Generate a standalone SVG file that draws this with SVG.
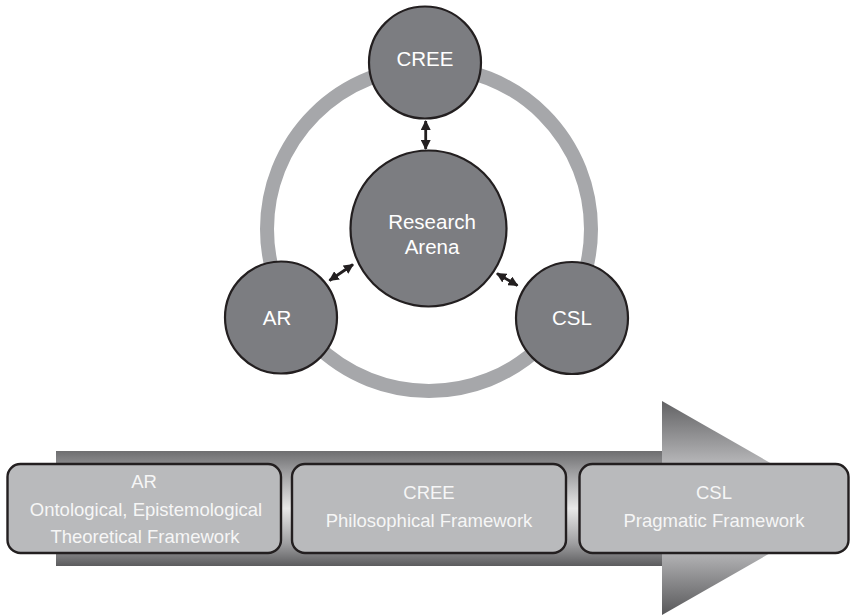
<svg xmlns="http://www.w3.org/2000/svg" width="851" height="616" viewBox="0 0 851 616">
  <defs>
    <style>
      .node { fill: #7c7d81; stroke: #231f20; stroke-width: 2.2; }
      .ring { fill: none; stroke: #a6a7aa; stroke-width: 14; }
      .link { stroke: #231f20; stroke-width: 2.8; fill: none; marker-start: url(#tip); marker-end: url(#tip); }
      .box { fill: #b9babc; stroke: #231f20; stroke-width: 2.4; }
      .lbl { font-family: "Liberation Sans", Arial, sans-serif; fill: #ffffff; text-anchor: middle; font-size: 20.5px; }
      .blbl { font-family: "Liberation Sans", Arial, sans-serif; fill: #f6f6f6; text-anchor: middle; font-size: 18.5px; }
    </style>
    <marker id="tip" viewBox="0 0 10 10" refX="9" refY="5" markerWidth="3.6" markerHeight="3.6" orient="auto-start-reverse" markerUnits="strokeWidth">
      <path d="M0,0 L10,5 L0,10 Z" fill="#231f20"/>
    </marker>
    <linearGradient id="shaftGrad" gradientUnits="userSpaceOnUse" x1="0" y1="451" x2="0" y2="566">
      <stop offset="0" stop-color="#6e6e70"/>
      <stop offset="0.2" stop-color="#a2a2a4"/>
      <stop offset="0.5" stop-color="#e8e8e8"/>
      <stop offset="0.8" stop-color="#a0a0a2"/>
      <stop offset="1" stop-color="#5c5c5e"/>
    </linearGradient>
    <linearGradient id="headGrad" gradientUnits="userSpaceOnUse" x1="0" y1="401" x2="0" y2="615">
      <stop offset="0" stop-color="#626264"/>
      <stop offset="0.28" stop-color="#b3b3b5"/>
      <stop offset="0.5" stop-color="#d8d8d8"/>
      <stop offset="0.72" stop-color="#b0b0b2"/>
      <stop offset="1" stop-color="#58585a"/>
    </linearGradient>
  </defs>

  <!-- outer ring joining the three perspectives -->
  <circle class="ring" cx="429" cy="229" r="162"/>

  <!-- two-way links to the research arena -->
  <g id="connectors">
    <line class="link" x1="425.7" y1="121" x2="425.7" y2="149"/>
    <line class="link" x1="329.5" y1="280.5" x2="353" y2="264.5"/>
    <line class="link" x1="497" y1="273.5" x2="517.5" y2="285.5"/>
  </g>

  <g id="cree">
    <circle class="node" cx="425" cy="62.5" r="56"/>
    <text class="lbl" x="425" y="66">CREE</text>
  </g>
  <g id="research-arena">
    <circle class="node" cx="428.5" cy="228.5" r="78"/>
    <text class="lbl" x="432" y="229">Research</text>
    <text class="lbl" x="432" y="254">Arena</text>
  </g>
  <g id="ar">
    <circle class="node" cx="281" cy="317.5" r="56"/>
    <text class="lbl" x="277" y="325">AR</text>
  </g>
  <g id="csl">
    <circle class="node" cx="572" cy="318" r="56"/>
    <text class="lbl" x="572" y="325">CSL</text>
  </g>

  <!-- progression arrow behind the framework boxes -->
  <g id="progression-arrow">
    <rect x="56" y="451" width="609" height="115" fill="url(#shaftGrad)"/>
    <polygon points="662,401 849,508 662,615" fill="url(#headGrad)"/>
  </g>

  <g id="framework-ar">
    <rect class="box" x="7.5" y="464" width="273.5" height="89" rx="13" ry="13"/>
    <text class="blbl" x="144" y="488">AR</text>
    <text class="blbl" x="146" y="516">Ontological, Epistemological</text>
    <text class="blbl" x="145" y="543">Theoretical Framework</text>
  </g>
  <g id="framework-cree">
    <rect class="box" x="292" y="464" width="274" height="89" rx="13" ry="13"/>
    <text class="blbl" x="429" y="499">CREE</text>
    <text class="blbl" x="429" y="527">Philosophical Framework</text>
  </g>
  <g id="framework-csl">
    <rect class="box" x="579.5" y="464" width="269" height="89" rx="13" ry="13"/>
    <text class="blbl" x="714" y="499">CSL</text>
    <text class="blbl" x="714" y="527">Pragmatic Framework</text>
  </g>
</svg>
